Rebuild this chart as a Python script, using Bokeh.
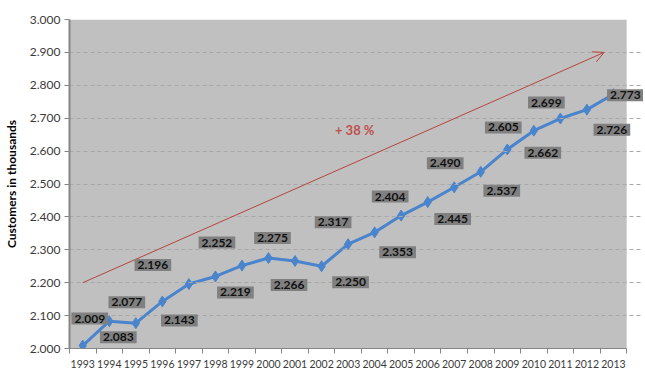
from bokeh.plotting import figure
from bokeh.models import Label, Arrow, OpenHead, FixedTicker, NumeralTickFormatter, Range1d
from bokeh.embed import file_html
from bokeh.resources import INLINE

# ---- data ----
years = [1993, 1994, 1995, 1996, 1997, 1998, 1999, 2000, 2001, 2002, 2003,
         2004, 2005, 2006, 2007, 2008, 2009, 2010, 2011, 2012, 2013]
customers = [2.009, 2.083, 2.077, 2.143, 2.196, 2.219, 2.252, 2.275, 2.266, 2.250, 2.317,
             2.353, 2.404, 2.445, 2.490, 2.537, 2.605, 2.662, 2.699, 2.726, 2.773]
y_ticks = [2.0, 2.1, 2.2, 2.3, 2.4, 2.5, 2.6, 2.7, 2.8, 2.9, 3.0]
trend_x = [1993, 2012.65]
trend_y = [2.2, 2.9]
trend_text = "+ 38 %"
trend_text_pos = (2003.25, 2.665)
y_title = "Customers in thousands"

# ---- label placement (style: pixel offsets dx, dy(up)) ----
label_offsets = [(7, 27), (9, -16), (-9, 21), (17, -19), (-36, 19), (20, -16), (-25, 23),
                 (4, 20), (-6, -24), (29, -16), (-15, 22), (23, -20), (-11, 19), (25, -17),
                 (-9, 24), (21, -19), (-4, 22), (9, -22), (-14, 16), (25, -20), (12, -1)]

FONT = "Lato"
AXIS_GRAY = "#868686"

# layout (pixels)
PLOT_W = 563
RIGHT_PAD = 17
ppy = PLOT_W / len(years)
x0 = years[0] - 0.5
x1 = years[-1] + 0.5

p = figure(width=63 + PLOT_W + RIGHT_PAD, height=370,
           output_backend="svg", toolbar_location=None,
           x_range=Range1d(x0, x1 + RIGHT_PAD / ppy),
           y_range=Range1d(y_ticks[0], y_ticks[-1]),
           background_fill_color="white")
p.min_border_left = 63
p.min_border_right = 0
p.min_border_top = 19
p.min_border_bottom = 22
p.border_fill_color = "white"
p.outline_line_color = None

# gray plot area
p.quad(left=[x0], right=[x1], bottom=[y_ticks[0]], top=[y_ticks[-1]],
       fill_color="#C0C0C0", line_color=None, level="underlay")

# x axis (categories, ticks between them)
p.xaxis.bounds = (x0, x1)
p.xaxis.ticker = FixedTicker(ticks=years, minor_ticks=[y - 0.5 for y in years] + [x1])
p.xaxis.major_tick_out = 0
p.xaxis.major_tick_in = 0
p.xaxis.minor_tick_out = 5
p.xaxis.minor_tick_in = 0
p.xaxis.minor_tick_line_color = AXIS_GRAY
p.xaxis.axis_line_color = AXIS_GRAY
p.xaxis.major_label_standoff = 6

p.yaxis.ticker = FixedTicker(ticks=y_ticks)
p.yaxis.formatter = NumeralTickFormatter(format="0.000")
p.yaxis.major_tick_out = 5
p.yaxis.major_tick_in = 0
p.yaxis.minor_tick_line_color = None
p.yaxis.major_tick_line_color = AXIS_GRAY
p.yaxis.axis_line_color = AXIS_GRAY
p.yaxis.axis_line_width = 2
p.yaxis.major_label_standoff = 4
for ax in (p.xaxis, p.yaxis):
    ax.major_label_text_font = FONT
    ax.major_label_text_color = "#3a3a3a"
p.xaxis.major_label_text_font_size = "10.5px"
p.yaxis.major_label_text_font_size = "12px"
p.yaxis.axis_label = y_title
p.yaxis.axis_label_text_font = FONT
p.yaxis.axis_label_text_font_size = "12px"
p.yaxis.axis_label_text_font_style = "bold"
p.yaxis.axis_label_text_color = "black"
p.yaxis.axis_label_standoff = 8

p.xgrid.grid_line_color = None
p.ygrid.ticker = FixedTicker(ticks=y_ticks)
p.ygrid.bounds = (x0, x1)
p.ygrid.level = "glyph"
p.ygrid.grid_line_color = "#A8A8A8"
p.ygrid.grid_line_dash = "4 3"

# trend arrow
p.add_layout(Arrow(end=OpenHead(size=11, line_color="#B5443F", line_width=1),
                   x_start=trend_x[0], y_start=trend_y[0], x_end=trend_x[1], y_end=trend_y[1],
                   line_color="#B5443F", line_width=1))
p.add_layout(Label(x=trend_text_pos[0], y=trend_text_pos[1], text=trend_text,
                   text_font=FONT, text_font_size="13px", text_font_style="bold",
                   text_color="#C0504D", text_align="center", text_baseline="middle"))

# series
p.line(years, customers, line_color="#4A84CC", line_width=3)
p.scatter(years, customers, marker="diamond", size=11, fill_color="#4A84CC", line_color="#4A84CC")

# data labels
for yr, v, (dx, dy) in zip(years, customers, label_offsets):
    p.add_layout(Label(x=yr, y=v, x_offset=dx, y_offset=dy, text=f"{v:.3f}",
                       text_font=FONT, text_font_size="12px", text_font_style="bold",
                       text_color="#111111", text_align="center", text_baseline="middle",
                       background_fill_color="#808080", padding=(3, 2)))

open("out.html", "w").write(file_html(p, INLINE))
